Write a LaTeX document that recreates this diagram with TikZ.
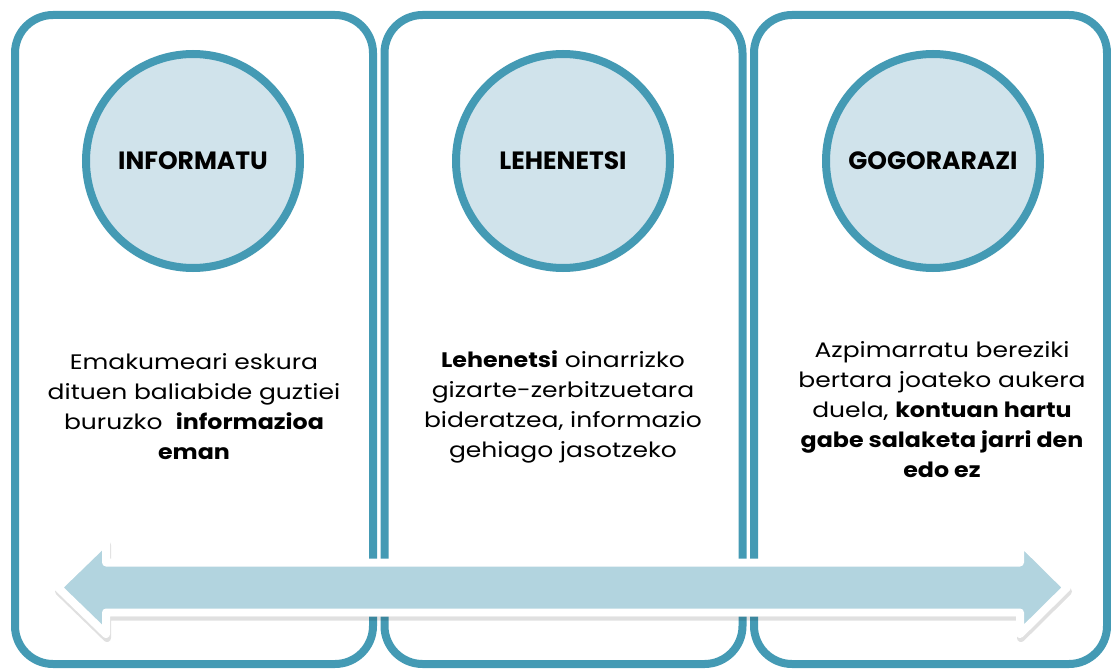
\documentclass[tikz,border=0pt]{standalone}
\usepackage{fontspec}
\setmainfont{Poppins}[FakeStretch=1.19, BoldFeatures={FakeStretch=1.13}]
\newfontfamily\headfont{Poppins}
\usetikzlibrary{shadows}
\definecolor{frameteal}{RGB}{68,154,180}
\definecolor{discfill}{RGB}{208,227,235}
\definecolor{bandfill}{RGB}{178,212,223}
\tikzset{
  panel/.style={draw=frameteal, line width=8pt, fill=white, rounded corners=38pt,
    minimum width=358pt, minimum height=649pt, inner sep=0pt,
    drop shadow={opacity=.2, shadow xshift=2pt, shadow yshift=-2pt}},
  disc/.style={draw=frameteal, line width=8pt, fill=discfill, circle,
    minimum size=214pt, inner sep=0pt, font=\headfont\bfseries\fontsize{25}{29}\selectfont,
    drop shadow={opacity=.2, shadow xshift=2pt, shadow yshift=-3pt}},
  blurb/.style={align=center, inner sep=0pt, font=\fontsize{21}{30}\selectfont},
  band/.style={draw=white, line width=8pt, line join=round, fill=bandfill},
  bandshade/.style={draw=black, fill=black, line width=8pt, line join=round, opacity=.12}
}
\begin{document}
\begin{tikzpicture}[x=1pt, y=-1pt]
\useasboundingbox (0,0) rectangle (1111,669);
% three panels
\node[panel] (p1) at (194,339.5) {};
\node[panel] (p2) at (563.5,339.5) {};
\node[panel, minimum width=353pt] (p3) at (930.5,339.5) {};
% headings
\node[disc] (inform) at (193,161) {INFORMATU};
\node[disc] (lehen) at (563,161) {LEHENETSI};
\node[disc] (gogor) at (933,161) {GOGORARAZI};
% texts
\node[blurb] (t1) at (194,407) {Emakumeari eskura\\dituen baliabide guztiei\\buruzko~ \textbf{informazioa}\\\textbf{eman}};
\node[blurb] (t2) at (563,407) {\textbf{Lehenetsi} oinarrizko\\gizarte-zerbitzuetara\\bideratzea, informazio\\gehiago jasotzeko};
\node[blurb] (t3) at (942,410) {Azpimarratu bereziki\\bertara joateko aukera\\duela, \textbf{kontuan hartu}\\\textbf{gabe salaketa jarri den}\\\textbf{edo ez}};
% double arrow along the bottom
\draw[bandshade, shift={(1,4)}] (58,587.5) -- (106,541) -- (106,562.5) -- (1020,562.5) -- (1020,541)
  -- (1067,587.5) -- (1020,634) -- (1020,612.5) -- (106,612.5) -- (106,634) -- cycle;
\draw[band] (58,587.5) -- (106,541) -- (106,562.5) -- (1020,562.5) -- (1020,541)
  -- (1067,587.5) -- (1020,634) -- (1020,612.5) -- (106,612.5) -- (106,634) -- cycle;
\end{tikzpicture}
\end{document}
